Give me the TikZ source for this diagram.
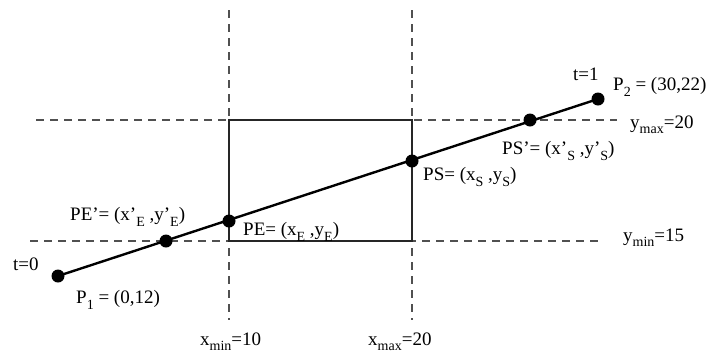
\documentclass[tikz,border=0pt]{standalone}
\usepackage{fontspec}
\setmainfont{Liberation Serif}
\usetikzlibrary{positioning}
\definecolor{guide}{HTML}{505050}

\newcommand{\lowsub}[1]{\raisebox{-0.28em}{\fontsize{14}{14}\selectfont #1}}

\tikzset{
  pt/.style={circle,fill=black,inner sep=0pt,minimum size=13pt},
  lbl/.style={font=\fontsize{19}{21}\selectfont,inner sep=0pt,anchor=west},
  guideline/.style={guide,line width=1.1pt,dash pattern=on 8pt off 6pt}
}

\begin{document}
\begin{tikzpicture}[x=1pt,y=-1pt]
  \useasboundingbox (0,0) rectangle (712,354);

  % window limits
  \coordinate (xminT) at (229,10);   \coordinate (xminB) at (229,320);
  \coordinate (xmaxT) at (412,10);   \coordinate (xmaxB) at (412,320);
  \coordinate (ymaxL) at (36,120);   \coordinate (ymaxR) at (617,120);
  \coordinate (yminL) at (30,241);   \coordinate (yminR) at (603,241);
  \draw[guideline] (xminT) -- (xminB);
  \draw[guideline] (xmaxT) -- (xmaxB);
  \draw[guideline] (ymaxL) -- (ymaxR);
  \draw[guideline] (yminL) -- (yminR);
  \draw[black!85,line width=1.3pt] (229,120) rectangle (412,241);

  % points on the segment
  \node[pt] (p1) at (58,276) {};
  \node[pt] (pe') at (166,241) {};
  \node[pt] (pe) at (229,221) {};
  \node[pt] (ps) at (412,161) {};
  \node[pt] (ps') at (530,120) {};
  \node[pt] (p2) at (598,99) {};
  \draw[line width=2.4pt] (p1.center) -- (p2.center);

  % labels
  \node[lbl] (t0) at (13,264) {t=0};
  \node[lbl] (p1lbl) at (76,300) {P\lowsub{1} = (0,12)};
  \node[lbl] (pe'lbl) at (70,217) {PE’= (x’\lowsub{E} ,y’\lowsub{E})};
  \node[lbl] (pelbl) at (243,232) {PE= (x\lowsub{E} ,y\lowsub{E})};
  \node[lbl] (pslbl) at (423,177) {PS= (x\lowsub{S} ,y\lowsub{S})};
  \node[lbl] (ps'lbl) at (502,151) {PS’= (x’\lowsub{S} ,y’\lowsub{S})};
  \node[lbl] (t1) at (573,74) {t=1};
  \node[lbl] (p2lbl) at (613,87) {P\lowsub{2} = (30,22)};
  \node[lbl] (ymax) at (630,125) {y\lowsub{max}=20};
  \node[lbl] (ymin) at (623,238) {y\lowsub{min}=15};
  \node[lbl] (xmin) at (200,342) {x\lowsub{min}=10};
  \node[lbl] (xmax) at (368,342) {x\lowsub{max}=20};
\end{tikzpicture}
\end{document}
